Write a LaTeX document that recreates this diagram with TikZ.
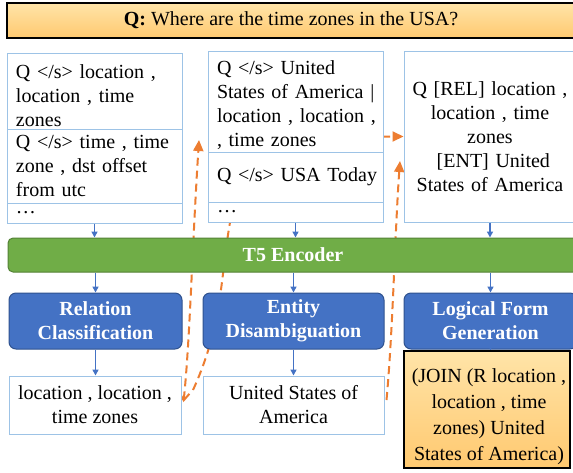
\documentclass[tikz,border=0pt]{standalone}
\usepackage{fontspec}
\setmainfont{Liberation Serif}
\usetikzlibrary{arrows.meta,calc,backgrounds}
\definecolor{lblue}{HTML}{9DC3E6}
\definecolor{bblue}{HTML}{4472C4}
\definecolor{bbord}{HTML}{2F528F}
\definecolor{tgreen}{HTML}{70AD47}
\definecolor{gbord}{HTML}{548235}
\definecolor{oline}{HTML}{ED7D31}
\definecolor{otop}{HTML}{FFE4A8}
\definecolor{obot}{HTML}{FFC970}
\newcommand\myfs{\fontsize{20}{24}\selectfont}
\newcommand\myln[1]{\mbox{#1}}
\begin{document}
\begin{tikzpicture}[x=1pt,y=-1pt,
  inbox/.style={draw=lblue, line width=1pt, fill=white, inner sep=0pt, font=\myfs,
     text width=157pt, align=left, minimum width=175pt},
  outbox/.style={draw=lblue, line width=1pt, fill=white, inner sep=0pt, font=\myfs,
     align=center, minimum height=58pt},
  orbox/.style={draw=black, line width=2pt, top color=otop, bottom color=obot,
     inner sep=0pt, font=\myfs, align=center},
  encbar/.style={draw=gbord, line width=1pt, fill=tgreen, rounded corners=5pt,
     text=white, font=\myfs\bfseries, minimum width=570pt, minimum height=34pt},
  task/.style={draw=bbord, line width=1pt, fill=bblue, rounded corners=7pt,
     text=white, font=\myfs\bfseries, align=center, minimum height=56pt, inner sep=0pt},
  barrow/.style={draw=bblue, line width=1.5pt, -{Triangle[length=6pt,width=6pt]}},
  odash/.style={draw=oline, line width=2pt, dash pattern=on 8pt off 5pt}
]
\useasboundingbox (0,0) rectangle (573,472);
\clip (0,0) rectangle (573,472);

% question
\node[orbox, minimum width=568pt, minimum height=35pt] (q) at (291,20.5)
  {\textbf{Q:} Where are the time zones in the USA?};

% left input candidates
\node[inbox, minimum height=76pt] (l1) at (94.5,91)
  {\rule{0pt}{24pt}\myln{Q </s> location ,}\\\myln{location , time}\\\myln{zones}};
\node[inbox, minimum height=74pt] (l2) at (94.5,166)
  {\myln{Q </s> time , time}\\\myln{zone , dst offset}\\\myln{from utc}};
\node[inbox, minimum height=20pt] (l3) at (94.5,213) {\ldots};

% middle input candidates
\node[inbox, minimum height=101pt] (m1) at (295.5,101.5)
  {\rule{0pt}{22pt}\myln{Q </s> United}\\\myln{States of America |}\\\myln{location , location ,}\\\myln{, time zones}};
\node[inbox, minimum height=50pt] (m2) at (295.5,177) {\myln{Q </s> USA Today}};
\node[inbox, minimum height=20pt] (m3) at (295.5,212) {\ldots};

% right input
\node[inbox, text width=166pt, align=center, minimum width=172pt, minimum height=171pt] (rin) at (490,136.5)
  {\myln{Q [REL] location ,}\\\myln{location , time}\\\myln{zones}\\\myln{\ [ENT] United}\\\myln{States of America}};

% encoder
\node[encbar] (enc) at (293,255) {T5 Encoder};

% tasks
\node[task, minimum width=173pt] (rel) at (95.5,321) {Relation\\Classification};
\node[task, minimum width=181pt] (ent) at (293.5,321) {Entity\\Disambiguation};
\node[task, minimum width=173pt] (lfg) at (490.5,321) {Logical Form\\Generation};

% outputs
\node[outbox, minimum width=172pt] (relout) at (95,405) {location , location ,\\time zones};
\node[outbox, minimum width=181pt] (entout) at (293.5,405) {United States of\\America};
\node[orbox, minimum width=166pt, minimum height=117pt] (lfout) at (487,409.5) {};
\node[font=\fontsize{20}{26}\selectfont, align=center, inner sep=0pt] (lftext) at (489,417)
  {(JOIN (R location ,\\location , time\\zones) United\\States of America)};

% blue arrows
\draw[barrow] (l3.south) -- (l3.south |- enc.north);
\draw[barrow] (m3.south) -- (m3.south |- enc.north);
\draw[barrow] (rin.south) -- (rin.south |- enc.north);
\draw[barrow] (rel.north |- enc.south) -- (rel.north);
\draw[barrow] (ent.north |- enc.south) -- (ent.north);
\draw[barrow] (lfg.north |- enc.south) -- (lfg.north);
\draw[barrow] (rel.south) -- (rel.south |- relout.north);
\draw[barrow] (ent.south) -- (ent.south |- entout.north);
\draw[barrow] (lfg.south) -- (lfg.south |- lfout.north);

% orange dashed connectors (behind boxes)
\coordinate (a1) at (199,140);
\coordinate (b0) at (193,390);
\coordinate (c1) at (400,161);
\begin{scope}[on background layer]
\fill[white] (0,0) rectangle (573,472);
\draw[odash, {Straight Barb[length=7pt,width=10pt]}-{Triangle[length=11pt,width=10pt]}]
  ([xshift=2pt,yshift=3pt]relout.east) .. controls (190,340) and (192,250) .. (a1);
\draw[odash, -{Triangle[length=11pt,width=10pt]}]
  (b0) .. controls (225,320) and (220,270) .. (232,212) -- (m1.east |- rin.west) -- (rin.west);
\draw[odash, -{Triangle[length=11pt,width=10pt]}]
  ([xshift=2pt,yshift=5pt]entout.east) .. controls (393,330) and (395,230) .. (c1);
\end{scope}
\end{tikzpicture}
\end{document}
